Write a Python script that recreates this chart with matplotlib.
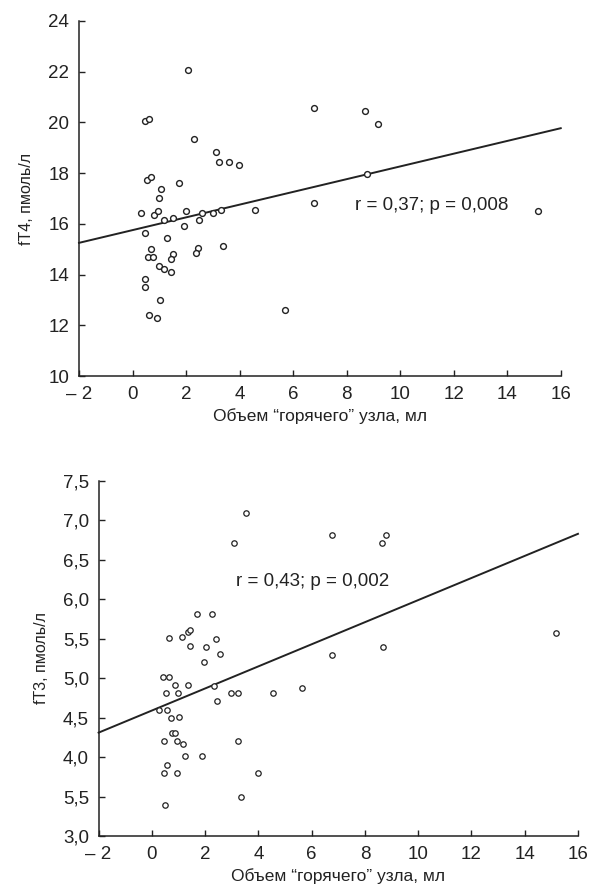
import matplotlib
matplotlib.use("Agg")
import matplotlib.pyplot as plt

plt.rcParams['font.family'] = ['Liberation Sans', 'DejaVu Sans']

# ---- Top panel data (fT4) ----
x_ft4 = [2.09, 0.46, 0.61, 2.30, 3.11, 3.24, 3.61, 3.98, 0.53, 0.68, 1.74, 1.06,
         1.00, 0.31, 0.80, 0.95, 1.17, 1.50, 1.99, 1.93, 2.48, 2.60, 2.99, 3.29,
         4.58, 0.47, 1.28, 0.70, 0.57, 0.77, 1.50, 1.43, 2.43, 2.38, 3.38, 0.99,
         1.18, 1.43, 0.47, 0.47, 1.03, 0.60, 0.90, 5.70, 6.77, 8.68, 9.19, 8.76,
         6.78, 15.15]
y_ft4 = [22.05, 20.04, 20.15, 19.33, 18.82, 18.44, 18.44, 18.32, 17.72, 17.84, 17.61, 17.36,
         17.03, 16.43, 16.36, 16.52, 16.14, 16.23, 16.52, 15.91, 16.14, 16.43, 16.43, 16.55,
         16.55, 15.64, 15.44, 15.02, 14.69, 14.69, 14.82, 14.61, 15.05, 14.84, 15.14, 14.34,
         14.23, 14.11, 13.82, 13.50, 13.00, 12.42, 12.30, 12.59, 20.56, 20.45, 19.95, 17.95,
         16.83, 16.52]
fit_x_ft4 = [-2, 16]
fit_y_ft4 = [15.25, 19.77]
label_ft4 = "r = 0,37; p = 0,008"

# ---- Bottom panel data (fT3) ----
x_ft3 = [3.54, 3.10, 1.71, 2.26, 0.63, 1.15, 1.37, 1.45, 1.44, 2.05, 2.42, 2.55,
         1.95, 0.41, 0.64, 0.88, 1.37, 2.34, 0.54, 1.00, 2.45, 2.96, 3.24, 4.53,
         0.25, 0.55, 0.70, 1.01, 0.76, 0.85, 0.44, 0.93, 1.16, 1.25, 1.90, 3.24,
         0.55, 0.44, 0.95, 3.97, 3.33, 0.51, 6.75, 8.65, 8.78, 15.17, 6.75, 8.67,
         5.65]
y_ft3 = [7.10, 6.72, 5.81, 5.81, 5.51, 5.52, 5.59, 5.61, 5.41, 5.40, 5.50, 5.31,
         5.20, 5.01, 5.01, 4.91, 4.91, 4.90, 4.81, 4.81, 4.71, 4.81, 4.81, 4.81,
         4.60, 4.60, 4.50, 4.51, 4.30, 4.30, 4.20, 4.21, 4.16, 4.01, 4.01, 4.20,
         3.90, 3.80, 3.80, 3.80, 3.49, 3.39, 6.81, 6.71, 6.82, 5.57, 5.30, 5.40,
         4.88]
fit_x_ft3 = [-2, 16]
fit_y_ft3 = [4.31, 6.83]
label_ft3 = "r = 0,43; p = 0,002"

x_ticks = [-2, 0, 2, 4, 6, 8, 10, 12, 14, 16]
x_ticklabels = ["– 2", "0", "2", "4", "6", "8", "10", "12", "14", "16"]
y_ticks_ft4 = [10, 12, 14, 16, 18, 20, 22, 24]
y_ticklabels_ft4 = ["10", "12", "14", "16", "18", "20", "22", "24"]
y_ticks_ft3 = [3.0, 3.5, 4.0, 4.5, 5.0, 5.5, 6.0, 6.5, 7.0, 7.5]
y_ticklabels_ft3 = ["3,0", "5,5", "4,0", "4,5", "5,0", "5,5", "6,0", "6,5", "7,0", "7,5"]

xlabel = "Объем “горячего” узла, мл"
ylabel_ft4 = "fT4, пмоль/л"
ylabel_ft3 = "fT3, пмоль/л"

ink = "#222222"

fig = plt.figure(figsize=(5.94, 8.94), dpi=100)
ax1 = fig.add_axes([0.133, 0.5794, 0.811, 0.3972])
ax2 = fig.add_axes([0.166, 0.0649, 0.807, 0.3971])


def style(ax, yticks, yticklabels, ylim, ylabel):
    ax.set_xlim(-2, 16)
    ax.set_ylim(*ylim)
    ax.set_xticks(x_ticks)
    ax.set_xticklabels(x_ticklabels)
    ax.set_yticks(yticks)
    ax.set_yticklabels(yticklabels)
    for s in ("top", "right"):
        ax.spines[s].set_visible(False)
    for s in ("left", "bottom"):
        ax.spines[s].set_linewidth(1.1)
        ax.spines[s].set_color(ink)
    ax.tick_params(direction="in", length=4.5, width=1.0, colors=ink,
                   labelsize=13.5, labelcolor=ink)
    ax.tick_params(axis="x", pad=7)
    ax.tick_params(axis="y", pad=7)
    ax.set_xlabel(xlabel, fontsize=12.5, color=ink, labelpad=4)
    ax.set_ylabel(ylabel, fontsize=11.5, color=ink, labelpad=10)


style(ax1, y_ticks_ft4, y_ticklabels_ft4, (10, 24), ylabel_ft4)
ax1.plot(fit_x_ft4, fit_y_ft4, color=ink, lw=1.4, clip_on=False, zorder=2)
ax1.plot(x_ft4, y_ft4, linestyle="none", marker="o", ms=4.2, mfc="white",
         mec=ink, mew=1.0, zorder=3)
ax1.text(8.3, 16.74, label_ft4, fontsize=13.5, color=ink, va="center", ha="left")

style(ax2, y_ticks_ft3, y_ticklabels_ft3, (3.0, 7.5), ylabel_ft3)
ax2.plot(fit_x_ft3, fit_y_ft3, color=ink, lw=1.4, clip_on=False, zorder=2)
ax2.plot(x_ft3, y_ft3, linestyle="none", marker="o", ms=3.9, mfc="white",
         mec=ink, mew=0.9, zorder=3)
ax2.text(3.15, 6.22, label_ft3, fontsize=13.5, color=ink, va="center", ha="left")

fig.savefig("out.png", dpi=100)
